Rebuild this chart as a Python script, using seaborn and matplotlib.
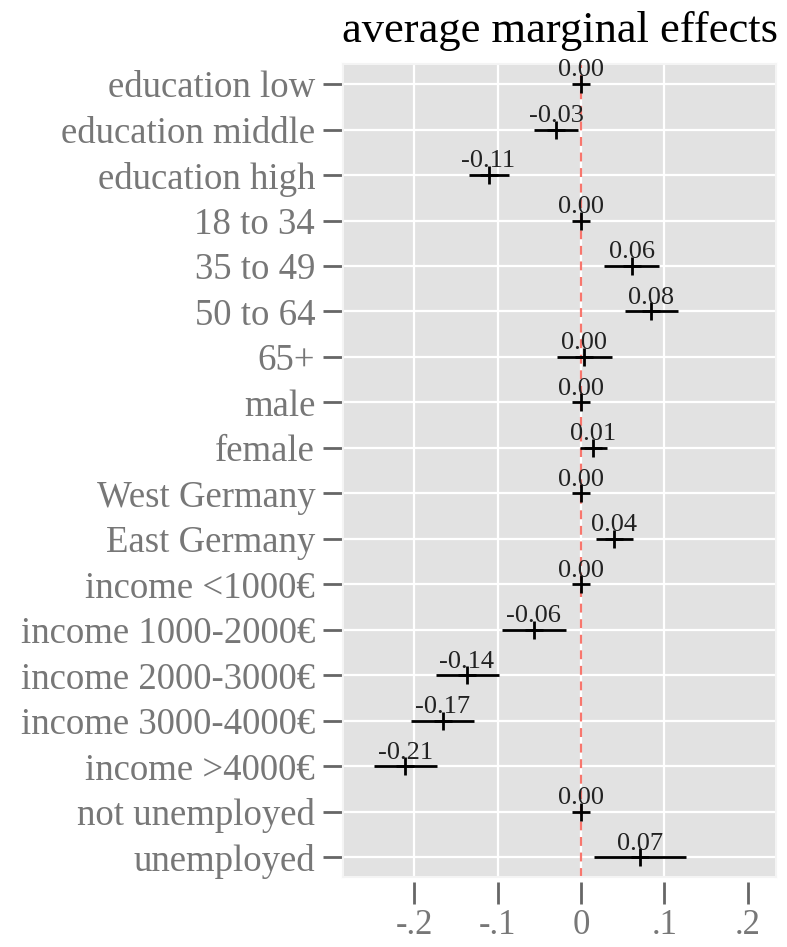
import numpy as np
import pandas as pd
import seaborn as sns
import matplotlib.pyplot as plt
from matplotlib.transforms import ScaledTranslation

# marginal effects
labels = ['education low', 'education middle', 'education high',
          '18 to 34', '35 to 49', '50 to 64', '65+',
          'male', 'female', 'West Germany', 'East Germany',
          'income <1000€', 'income 1000-2000€', 'income 2000-3000€',
          'income 3000-4000€', 'income >4000€',
          'not unemployed', 'unemployed']
effect = [0.0, -0.030, -0.111, 0.0, 0.061, 0.084, 0.004, 0.0, 0.015,
          0.0, 0.040, 0.0, -0.057, -0.137, -0.166, -0.211, 0.0, 0.071]
lower = [0.0, -0.056, -0.135, 0.0, 0.028, 0.053, -0.029, 0.0, -0.001,
         0.0, 0.018, 0.0, -0.095, -0.174, -0.204, -0.249, 0.0, 0.016]
upper = [0.0, -0.004, -0.086, 0.0, 0.094, 0.117, 0.037, 0.0, 0.031,
         0.0, 0.062, 0.0, -0.018, -0.099, -0.128, -0.173, 0.0, 0.126]
xticks = [-0.2, -0.1, 0, 0.1, 0.2]
xticklabels = ['-.2', '-.1', '0', '.1', '.2']

df = pd.DataFrame({'label': labels, 'effect': effect,
                   'lower': lower, 'upper': upper})
df['pos'] = np.arange(len(df))

sns.set_style("darkgrid", {'axes.facecolor': '#E2E2E2',
                           'grid.color': 'white'})
plt.rcParams['font.family'] = ['Liberation Serif', 'DejaVu Serif']

fig = plt.figure(figsize=(7.87, 9.47), dpi=100)
ax = fig.add_axes([343 / 787, 1 - 877 / 947, 433 / 787, 813 / 947])

# white gridlines (none at .2, as in the reference)
ax.grid(False)
for x in xticks[:-1]:
    ax.axvline(x, color='white', lw=1.6, zorder=0.5)
for y in df['pos']:
    ax.axhline(y, color='white', lw=1.6, zorder=0.5)

ax.axvline(0, color='#F8766D', lw=1.6, ls=(0, (4, 3)), zorder=1)

ax.hlines(df['pos'], df['lower'], df['upper'], color='black', lw=2, zorder=2)
sns.scatterplot(data=df, x='effect', y='pos', marker='+', s=170,
                color='black', linewidth=2, ax=ax, zorder=3, legend=False)

for _, r in df.iterrows():
    ax.annotate(f"{r['effect']:.2f}", (r['effect'], r['pos']),
                xytext=(0, 2), textcoords='offset points',
                ha='center', va='bottom', fontsize=19, color='#222222',
                zorder=4)

ax.set_xlim(-0.2857, 0.2341)
ax.set_ylim(len(df) - 1 + 0.43, -0.44)
ax.set_yticks(df['pos'])
ax.set_yticklabels(df['label'])
ax.set_xticks(xticks)
ax.set_xticklabels(xticklabels)
ax.set_xlabel('')
ax.set_ylabel('')

ax.tick_params(axis='y', length=14, width=2, color='#666666', pad=6,
               labelsize=26.5, labelcolor='#777777', left=True)
ax.tick_params(axis='x', length=16, width=2, color='#666666', pad=7,
               labelsize=25, labelcolor='#777777', bottom=True,
               direction='out')
for side in ['top', 'right', 'bottom', 'left']:
    ax.spines[side].set_visible(True)
    ax.spines[side].set_color('#F4F4F4')
    ax.spines[side].set_linewidth(1.5)

# x ticks sit below the panel with a small gap
off = ScaledTranslation(0, -5 / 100, fig.dpi_scale_trans)
for t in ax.xaxis.get_major_ticks():
    t.tick1line.set_transform(t.tick1line.get_transform() + off)
off_y = ScaledTranslation(-1 / 100, 0, fig.dpi_scale_trans)
for t in ax.yaxis.get_major_ticks():
    t.tick1line.set_transform(t.tick1line.get_transform() + off_y)

ax.set_title('average marginal effects', fontsize=32, color='black', pad=16)

fig.savefig('out.png', dpi=100)
